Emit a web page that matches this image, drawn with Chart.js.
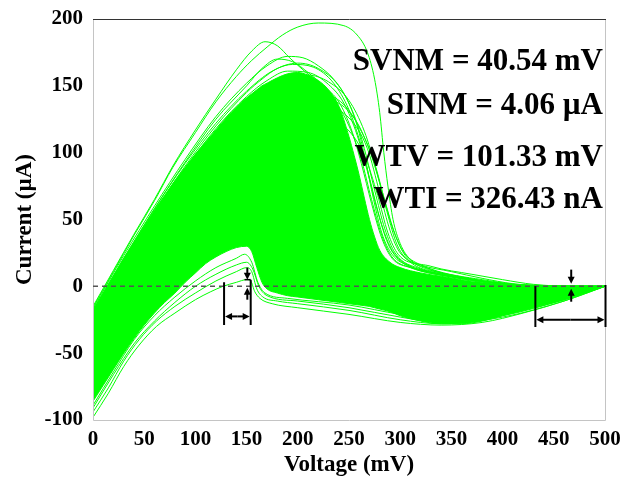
<!DOCTYPE html>
<html>
<head>
<meta charset="utf-8">
<script src="https://cdn.jsdelivr.net/npm/chart.js@4"></script>
<style>
  html, body { margin: 0; padding: 0; background: #fff; }
  canvas { display: block; }
</style>
</head>
<body>
<canvas id="ivChart" width="623" height="483"></canvas>
<script>
// N-curve Monte Carlo: voltage (mV) vs current (uA)
const xTicks = [0, 50, 100, 150, 200, 250, 300, 350, 400, 450, 500];
const yTicks = [-100, -50, 0, 50, 100, 150, 200];

// dense core of the runs (upper / lower edge, same voltage grid)
const envV = [0,10,20,30,40,50,60,70,80,90,100,110,120,130,140,150,155,160,165,170,180,190,200,210,220,230,240,250,255,260,265,270,275,280,290,300,320,340,360,380,400,420,440,460,480,500];
const envUpper = [-18,-5,8,21,33,45,57,68,79,89,99,108,117,126,134,141,144,147,150,152,156,159,160,158,154,147,135,112,98,83,66,50,37,27,18,14,10,7.5,5,3,1.5,0.5,0,0,0,0];
const envLower = [-86,-74,-62,-50,-39,-29,-20,-12,-5,3,10,17,22,26,29,30,26,14,3,-2,-5,-7,-8,-9,-10,-11,-12,-13,-13.5,-14,-14.5,-15,-16,-17,-19,-22,-26,-28,-28,-26,-22,-18,-14,-10,-5,0];

// single runs that stand out of the core
const outlierA = [[0,-16],[20,11],[40,38],[60,64],[78,89],[100,115],[120,138],[140,157],[155,169],[170,179],[185,188],[200,194],[220,197],[245,195],[258,188],[268,175],[275,155],[280,130],[284,100],[288,75],[293,50],[300,32],[310,20],[330,12],[360,7],[400,2],[440,0],[500,0]];
const outlierB = [[0,-15],[20,12],[40,39],[60,65],[78,90],[100,117],[120,140],[140,162],[155,176],[168,183],[180,180],[192,171],[205,162],[220,152],[235,140],[250,120],[262,95],[272,65],[282,38],[292,22],[310,14],[350,7],[400,2],[440,0],[500,0]];
const upperRuns = [
    [[0,-17],[30,23],[60,60],[90,95],[120,127],[150,152],[170,165],[190,172],[205,171],[220,165],[235,155],[248,140],[258,120],[266,95],[274,65],[282,40],[292,24],[310,15],[350,8],[400,2],[440,0],[500,0]],
    [[0,-18],[30,21],[60,58],[90,92],[120,122],[150,146],[175,161],[200,167],[220,163],[240,150],[255,128],[265,103],[275,72],[285,43],[295,25],[320,13],[360,6],[420,1],[500,0]],
    [[0,-22],[30,17],[60,54],[90,88],[120,118],[150,142],[170,154],[190,161],[210,160],[230,151],[245,137],[258,113],[268,86],[278,56],[288,32],[300,19],[330,11],[380,4],[440,0],[500,0]],
    [[0,-26],[40,22],[80,70],[120,111],[160,144],[190,156],[210,158],[230,153],[250,139],[265,116],[277,86],[287,56],[297,31],[310,18],[340,10],[400,2],[500,0]],
    [[0,-20],[30,19],[60,56],[90,90],[120,120],[150,145],[165,155],[180,163],[195,166],[215,164],[235,152],[250,132],[262,105],[272,75],[282,46],[292,27],[305,17],[340,9],[400,2],[460,0],[500,0]],
    [[0,-19],[30,20],[60,58],[90,93],[120,125],[150,150],[165,163],[180,170],[195,168],[210,160],[225,150],[240,138],[252,118],[262,92],[272,62],[282,36],[292,21],[310,14],[350,7],[400,2],[440,0],[500,0]],
    [[0,-30],[50,25],[100,80],[150,122],[190,141],[220,144],[245,136],[262,116],[275,92],[285,64],[295,39],[305,23],[330,13],[380,5],[440,0],[500,0]],
    [[0,-38],[50,14],[100,68],[150,112],[200,136],[230,139],[255,126],[270,102],[282,72],[292,45],[302,27],[320,16],[360,7],[420,1],[500,0]],
    [[0,-45],[60,16],[120,85],[180,126],[220,135],[250,126],[268,103],[280,70],[290,42],[300,25],[330,15],[370,9],[400,5],[430,1.5],[470,0],[500,0]],
    [[0,-50],[60,10],[120,78],[180,120],[215,128],[245,120],[265,98],[278,68],[288,40],[298,24],[320,16],[350,11],[380,6],[410,2],[450,0],[500,0]]
];
const lowerRuns = [
    [[0,-98],[15,-80],[30,-60],[45,-44],[62,-30],[80,-20],[100,-10],[115,-4],[127,0],[140,3],[150,5],[154,4],[158,-4],[163,-9],[175,-13],[200,-16],[250,-21],[300,-27],[340,-29],[380,-27],[420,-20],[460,-11],[500,0]],
    [[0,-94],[15,-76],[30,-56],[45,-40],[62,-26],[80,-15],[100,-5],[120,4],[140,11],[150,14],[155,11],[160,-2],[166,-8],[180,-11],[200,-13],[250,-18],[300,-25],[340,-28],[400,-23],[460,-11],[500,0]],
    [[0,-91],[20,-66],[40,-43],[60,-26],[80,-12],[100,0],[120,9],[140,16],[150,18],[156,13],[162,0],[170,-7],[200,-11],[250,-16],[300,-23],[340,-27],[400,-22],[460,-10],[500,0]],
    [[0,-89],[20,-64],[40,-40],[60,-22],[80,-8],[100,4],[120,14],[140,21],[148,24],[155,18],[161,3],[168,-5],[190,-9],[250,-14],[300,-21],[340,-25],[400,-21],[460,-10],[500,0]]
];

// noise margin windows (mV / uA)
const svnmSpan = [128, 154];
const wtvSpan = [432, 500.5];
const marginTexts = ['SVNM = 40.54 mV', 'SINM = 4.06 \u00b5A', 'WTV = 101.33 mV', 'WTI = 326.43 nA'];

const green = 'rgb(0, 255, 0)';
const serif = "'Times New Roman', 'Liberation Serif', serif";

function run(points) {
    return {
        data: points.map(p => ({x: p[0], y: p[1]})),
        showLine: true,
        borderColor: green,
        borderWidth: 1,
        pointRadius: 0,
        fill: false,
        cubicInterpolationMode: 'monotone'
    };
}

const coreTop = run(envV.map((v, i) => [v, envUpper[i]]));
coreTop.fill = '+1';
coreTop.backgroundColor = green;
const coreBottom = run(envV.map((v, i) => [v, envLower[i]]));

const datasets = [coreTop, coreBottom, run(outlierA), run(outlierB)]
    .concat(upperRuns.map(run), lowerRuns.map(run));

function arrow(ctx, x1, y1, x2, y2) {
    const a = Math.atan2(y2 - y1, x2 - x1);
    const len = 7, half = 3.5;
    ctx.beginPath();
    ctx.moveTo(x1, y1);
    ctx.lineTo(x2 - Math.cos(a) * len * 0.8, y2 - Math.sin(a) * len * 0.8);
    ctx.stroke();
    ctx.beginPath();
    ctx.moveTo(x2, y2);
    ctx.lineTo(x2 - Math.cos(a) * len - Math.sin(a) * half, y2 - Math.sin(a) * len + Math.cos(a) * half);
    ctx.lineTo(x2 - Math.cos(a) * len + Math.sin(a) * half, y2 - Math.sin(a) * len - Math.cos(a) * half);
    ctx.closePath();
    ctx.fill();
}

const marksPlugin = {
    id: 'marks',
    afterDatasetsDraw(chart) {
        const {ctx, scales: {x, y}} = chart;
        const px = v => x.getPixelForValue(v);
        const py = v => y.getPixelForValue(v);
        ctx.save();

        // frame
        ctx.lineWidth = 1;
        ctx.strokeStyle = '#c4c4c4';
        ctx.beginPath();
        ctx.moveTo(px(0) + 0.5, py(200));
        ctx.lineTo(px(0) + 0.5, py(-100) + 0.5);
        ctx.lineTo(px(500) + 0.5, py(-100) + 0.5);
        ctx.lineTo(px(500) + 0.5, py(200));
        ctx.stroke();
        ctx.strokeStyle = '#333';
        ctx.beginPath();
        ctx.moveTo(px(0), py(200) + 0.5);
        ctx.lineTo(px(500) + 1, py(200) + 0.5);
        ctx.stroke();

        // zero line
        ctx.strokeStyle = '#555';
        ctx.lineWidth = 1.5;
        ctx.setLineDash([5, 4]);
        ctx.beginPath();
        ctx.moveTo(px(0), py(0));
        ctx.lineTo(px(500), py(0));
        ctx.stroke();
        ctx.setLineDash([]);

        ctx.strokeStyle = '#000';
        ctx.fillStyle = '#000';
        ctx.lineWidth = 2;

        // SVNM window
        ctx.beginPath();
        ctx.moveTo(px(svnmSpan[0]), py(3));
        ctx.lineTo(px(svnmSpan[0]), py(-29));
        ctx.moveTo(px(svnmSpan[1]), py(5));
        ctx.lineTo(px(svnmSpan[1]), py(-29));
        ctx.stroke();
        const ySv = py(-22.5);
        arrow(ctx, (px(svnmSpan[0]) + px(svnmSpan[1])) / 2, ySv, px(svnmSpan[0]) + 1, ySv);
        arrow(ctx, (px(svnmSpan[0]) + px(svnmSpan[1])) / 2, ySv, px(svnmSpan[1]) - 1, ySv);
        // SINM arrows
        const xSi = px(150.7);
        arrow(ctx, xSi, py(14), xSi, py(5));
        arrow(ctx, xSi, py(-10), xSi, py(-1));
        ctx.lineWidth = 1.5;
        ctx.beginPath();
        ctx.moveTo(px(148), py(5));
        ctx.lineTo(px(154), py(5));
        ctx.stroke();
        ctx.lineWidth = 2;

        // WTV window
        ctx.beginPath();
        ctx.moveTo(px(wtvSpan[0]), py(0));
        ctx.lineTo(px(wtvSpan[0]), py(-30.5));
        ctx.moveTo(px(wtvSpan[1]), py(1));
        ctx.lineTo(px(wtvSpan[1]), py(-30.5));
        ctx.stroke();
        const yWt = py(-25);
        const mid = (px(wtvSpan[0]) + px(wtvSpan[1])) / 2;
        arrow(ctx, mid, yWt, px(wtvSpan[0]) + 1, yWt);
        arrow(ctx, mid, yWt, px(wtvSpan[1]) - 1, yWt);
        // WTI arrows
        const xWi = px(467);
        arrow(ctx, xWi, py(12.5), xWi, py(2));
        arrow(ctx, xWi, py(-11.5), xWi, py(-1.8));

        // result labels
        ctx.font = 'bold 31px ' + serif;
        ctx.textAlign = 'right';
        ctx.textBaseline = 'alphabetic';
        const baselines = [70, 114, 166, 208];
        marginTexts.forEach((t, i) => ctx.fillText(t, 603, baselines[i]));
        ctx.restore();
    }
};

const ctx = document.getElementById('ivChart').getContext('2d');
const tickFont = {family: serif, size: 21, weight: 'bold'};
const titleFont = {family: serif, size: 23, weight: 'bold'};

new Chart(ctx, {
    type: 'scatter',
    data: {datasets: datasets},
    options: {
        responsive: false,
        animation: false,
        layout: {padding: {top: 19, right: 18, left: 0, bottom: 0}},
        plugins: {
            legend: {display: false},
            tooltip: {enabled: false}
        },
        scales: {
            x: {
                type: 'linear',
                min: 0,
                max: 500,
                afterBuildTicks: s => { s.ticks = xTicks.map(v => ({value: v})); },
                afterFit: s => { s.height = 63; s.paddingLeft = 0; s.paddingRight = 0; },
                ticks: {font: tickFont, color: '#000', padding: 7, maxRotation: 0},
                grid: {display: false, drawTicks: false},
                border: {display: false},
                title: {display: true, text: 'Voltage (mV)', font: titleFont, color: '#000', padding: {top: 0, bottom: 4}}
            },
            y: {
                type: 'linear',
                min: -100,
                max: 200,
                afterBuildTicks: s => { s.ticks = yTicks.map(v => ({value: v})); },
                afterFit: s => { s.width = 93; s.paddingTop = 0; s.paddingBottom = 0; },
                ticks: {font: tickFont, color: '#000', padding: 10},
                grid: {display: false, drawTicks: false},
                border: {display: false},
                title: {display: true, text: 'Current (\u00b5A)', font: titleFont, color: '#000', padding: {top: 11, bottom: 0}}
            }
        }
    },
    plugins: [marksPlugin]
});
</script>
</body>
</html>
